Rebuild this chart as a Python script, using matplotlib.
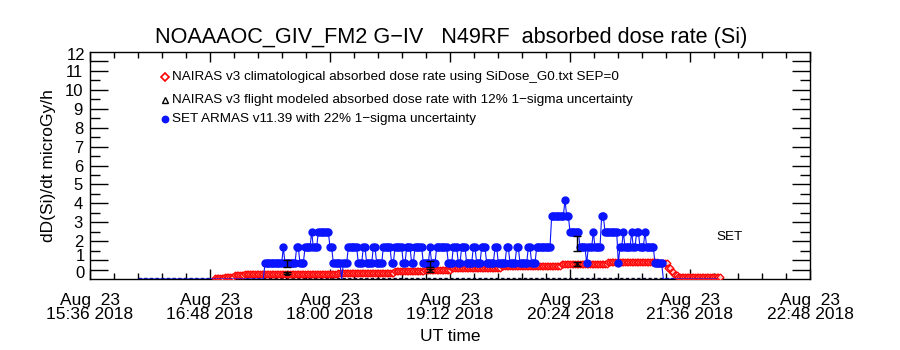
import numpy as np
import matplotlib
matplotlib.use("Agg")
import matplotlib.pyplot as plt
from matplotlib.ticker import FixedLocator, NullFormatter

plt.rcParams['font.family'] = ['Liberation Sans', 'DejaVu Sans']

def hm(s):
    h, m = s.split(':')
    return int(h) * 60 + float(m)

# ---------------- data ----------------
date_label = "Aug  23"
year_label = "2018"
xtick_times = ['15:36', '16:48', '18:00', '19:12', '20:24', '21:36', '22:48']
ytick_vals = list(range(0, 13))

# SET ARMAS (1-min samples, run-length encoded)
armas_start = '16:05'
armas_vals = [0.0,
              0.835, 1.67, 0.835, 1.67, 0.835, 1.67, 2.5, 1.67, 2.5, 1.67,
              0.835, 0.0, 0.835, 1.67, 0.835, 1.67, 0.835, 1.67, 0.835, 1.67,
              0.835, 1.67, 0.835, 1.67, 0.835, 1.67, 0.835, 1.67, 0.835, 1.67,
              0.835, 1.67, 0.835, 1.67, 0.835, 1.67, 0.835, 1.67, 0.835, 1.67,
              0.835, 1.67, 0.835, 1.67, 0.835, 1.67, 0.835, 1.67, 3.34, 4.17,
              3.34, 2.5, 1.67, 0.835, 1.67, 2.5, 1.67, 3.34, 2.5, 0.835,
              1.67, 2.5, 1.67, 2.5, 1.67, 2.5, 1.67, 2.5, 1.67, 0.835,
              0.0]
armas_counts = [76,
                11, 1, 7, 2, 3, 4, 1, 3, 7, 2,
                5, 1, 3, 6, 3, 2, 4, 2, 4, 5,
                2, 5, 2, 3, 2, 5, 4, 1, 3, 7,
                3, 3, 2, 3, 4, 2, 3, 3, 5, 2,
                5, 2, 4, 2, 5, 2, 3, 9, 8, 1,
                2, 6, 4, 1, 3, 1, 4, 2, 8, 1,
                2, 1, 4, 1, 2, 2, 3, 1, 5, 5,
                33]

# NAIRAS v3 climatological (1-min samples, run-length encoded)
clim_start = '16:51'
clim_vals = [0.05, 0.12, 0.2, 0.25, 0.27, 0.32, 0.4, 0.48, 0.6, 0.7,
             0.8, 0.9, 0.86, 0.6, 0.35, 0.2, 0.1]
clim_counts = [6, 6, 6, 12, 44, 34, 18, 16, 30, 36,
               28, 30, 6, 2, 2, 2, 26]

# NAIRAS v3 flight modeled
flight_zero_span = ['16:05', '21:56']
flight_t = ['17:34', '19:00', '20:28']
flight_v = [0.32, 0.45, 0.80]
flight_rel_err = 0.12

# ARMAS error bars
armas_err_t = ['17:34', '19:00', '20:28']
armas_err_v = [0.82, 0.80, 1.88]
armas_rel_err = 0.22

legend_labels = [
    "NAIRAS v3 climatological absorbed dose rate using SiDose_G0.txt SEP=0",
    "NAIRAS v3 flight modeled absorbed dose rate with 12% 1\u2212sigma uncertainty",
    "SET ARMAS v11.39 with 22% 1\u2212sigma uncertainty",
]

# ---------------- build series ----------------
a_t0 = hm(armas_start)
a_v = np.repeat(armas_vals, armas_counts)
a_t = a_t0 + np.arange(len(a_v)) * 1.0
c_t0 = hm(clim_start)
c_v = np.repeat(clim_vals, clim_counts)
c_t = c_t0 + np.arange(len(c_v)) * 1.0

BLUE = '#0a14ff'
RED = '#ff0000'

fig = plt.figure(figsize=(9, 3.5), dpi=100)
ax = fig.add_axes([90 / 900, 1 - 279 / 350, 720 / 900, 227 / 350])

xmin, xmax = hm(xtick_times[0]), hm(xtick_times[-1])
ax.set_xlim(xmin, xmax)
ax.set_ylim(0, 12)

# zero lines (flight model & ARMAS zero samples)
fz = [hm(s) for s in flight_zero_span]
ax.plot(fz, [0, 0], color='#101040', lw=2.4, ls=(0, (1, 0.7)), zorder=2)

# climatological (red diamonds)
ax.plot(c_t, c_v, ls='none', marker='D', ms=3.5, mfc='#ffc8c8', mec=RED,
        mew=0.9, zorder=3)

# ARMAS (blue)
ax.plot(a_t, a_v, color=BLUE, lw=0.8, zorder=4)
mask = a_v > 0
ax.plot(a_t[mask], a_v[mask], ls='none', marker='o', ms=5.0, mfc=BLUE,
        mec=BLUE, zorder=5)

# error bars
at = [hm(s) for s in armas_err_t]
ax.errorbar(at, armas_err_v, yerr=np.array(armas_err_v) * armas_rel_err,
            fmt='none', ecolor='black', elinewidth=1.0, capsize=3, zorder=6)
ft = [hm(s) for s in flight_t]
ax.errorbar(ft, flight_v, yerr=np.array(flight_v) * flight_rel_err,
            fmt='none', ecolor='black', elinewidth=1.0, capsize=3, zorder=6)
ax.plot(ft, flight_v, ls='none', marker='^', ms=3, mfc='none', mec='black',
        mew=0.7, zorder=6)

# ---------------- axes styling ----------------
for sp in ax.spines.values():
    sp.set_linewidth(1.0)
    sp.set_color('black')

xt = [hm(s) for s in xtick_times]
ax.set_xticks(xt)
ax.set_xticklabels([f"{date_label}\n{s} {year_label}" for s in xtick_times],
                   fontsize=12.5, linespacing=0.95)
ax.xaxis.set_minor_locator(FixedLocator(np.arange(xmin, xmax + 0.1, 14.4)))
ax.tick_params(axis='x', which='major', direction='in', length=7, width=1,
               top=True, bottom=True, pad=10)
ax.tick_params(axis='x', which='minor', direction='in', length=4, width=1,
               top=True, bottom=True)

ymaj = [0.5] + ytick_vals[1:-1] + [11.5]
ax.yaxis.set_major_locator(FixedLocator(ymaj))
ax.set_yticklabels([''] * 2 + [str(v) for v in ytick_vals[2:-1]] + [''],
                   fontsize=12)
ax.yaxis.set_minor_locator(FixedLocator(np.arange(1.5, 11, 1.0)))
ax.tick_params(axis='y', which='major', direction='in', length=13, width=1,
               left=True, right=True, pad=5)
ax.tick_params(axis='y', which='minor', direction='in', length=7, width=1,
               left=True, right=True)
ax.yaxis.set_minor_formatter(NullFormatter())
# labels 0, 1 and 12 are nudged inward like the original
ytr = ax.get_yaxis_transform()
for val, ypos in [(ytick_vals[0], 0.3), (ytick_vals[1], 1.2),
                  (ytick_vals[-1], 11.8)]:
    ax.text(-5 / 720, ypos, str(val), transform=ytr, ha='right', va='center',
            fontsize=12)

ax.set_ylabel("dD(Si)/dt microGy/h", fontsize=12.5, labelpad=6)
ax.set_xlabel("UT time", fontsize=12.5, labelpad=5)
fig.text(0.501, 1 - 38 / 350, "NOAAAOC_GIV_FM2 G\u2212IV   N49RF  absorbed dose rate (Si)",
         ha='center', va='center', fontsize=15.6)

# legend (manual)
leg_y = [10.69, 9.47, 8.47]
lx_mark = 0.104
lx_text = 0.114
ax.plot([lx_mark], [leg_y[0]], transform=ytr, marker='D',
        ms=4.2, mfc='white', mec=RED, mew=1.2, ls='none', clip_on=False)
ax.plot([lx_mark], [leg_y[1]], transform=ytr, marker='^',
        ms=4.5, mfc='none', mec='black', mew=1.0, ls='none', clip_on=False)
ax.plot([lx_mark], [leg_y[2]], transform=ytr, marker='o',
        ms=4.6, mfc=BLUE, mec=BLUE, ls='none', clip_on=False)
for y, lab in zip(leg_y, legend_labels):
    ax.text(lx_text, y, lab, transform=ytr, ha='left',
            va='center', fontsize=9.7)

ax.text(hm('22:00'), 2.2, "SET", ha='center', va='center', fontsize=9.7)

fig.savefig("out.png", dpi=100)
